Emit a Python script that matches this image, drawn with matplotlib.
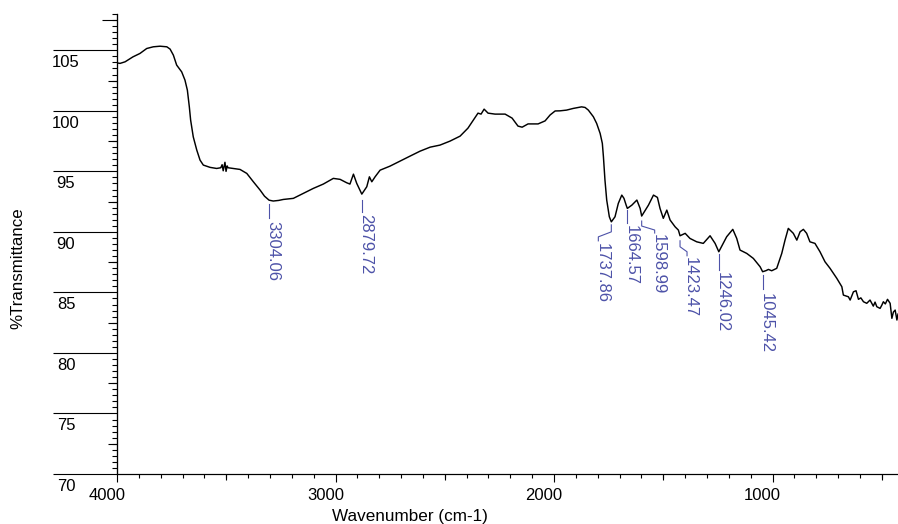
import matplotlib
matplotlib.use('Agg')
import matplotlib.pyplot as plt
from matplotlib import transforms
from matplotlib.lines import Line2D

plt.rcParams['font.family'] = ['Liberation Sans', 'DejaVu Sans']

# ---------------- data ----------------
wavenumber = [4000, 3986, 3963, 3927, 3895, 3864, 3834, 3803, 3772, 3757, 3742, 3727,
              3704, 3689, 3678, 3669, 3663, 3651, 3635, 3620, 3605, 3574, 3544,
              3525, 3519, 3514, 3510, 3506, 3501, 3496, 3492, 3468, 3437, 3406, 3376, 3345,
              3325, 3304.06, 3285, 3260, 3239, 3193, 3147, 3102, 3056, 3010, 2979, 2949,
              2934, 2918, 2903,
              2879.72, 2857, 2845, 2834, 2819, 2796, 2751, 2705, 2659, 2613, 2567, 2522,
              2476, 2430, 2394, 2366, 2348, 2334, 2320, 2302, 2270, 2224, 2192, 2165,
              2146, 2119, 2073, 2041, 2018, 1995, 1973, 1943, 1912, 1874, 1858, 1843,
              1820, 1805, 1789, 1779, 1774, 1767, 1759, 1747, 1737.86, 1721, 1706, 1690,
              1680, 1670, 1664.57, 1644, 1621, 1606, 1598.99, 1568, 1545, 1527, 1515,
              1500, 1484, 1469, 1446, 1431, 1423.47, 1400, 1378, 1347, 1317, 1286, 1263,
              1246.02, 1210, 1182, 1164, 1149, 1118, 1088, 1057, 1045.42, 1030, 1019,
              1004, 981, 958, 943, 928, 905, 889, 874, 859, 844, 829, 806, 783, 760, 737,
              706, 683, 676, 653, 645, 630, 618, 607, 596, 584, 569, 554, 539, 531, 523,
              508, 500, 493, 484, 474, 462, 454, 447, 439, 431, 426]
transmittance = [103.96, 103.92, 104.05, 104.46, 104.74, 105.15, 105.29, 105.34, 105.29,
                 105.10, 104.60, 103.78, 103.22, 102.54, 101.71, 100.33, 99.23, 97.85,
                 96.76, 95.93, 95.52, 95.33, 95.24,
                 95.30, 95.55, 95.05, 95.40, 95.75, 95.00, 95.45, 95.30,
                 95.24, 95.16, 94.83, 94.14, 93.45,
                 92.95, 92.62, 92.55, 92.60, 92.68, 92.77,
                 93.18, 93.59, 93.95, 94.42, 94.34, 94.06, 93.95, 94.77, 94.01, 93.12,
                 93.73, 94.55, 94.14, 94.55, 95.10, 95.43, 95.85, 96.26, 96.67, 97.00,
                 97.17, 97.50, 97.91, 98.57, 99.32, 99.81, 99.73, 100.14, 99.81, 99.73,
                 99.73, 99.40, 98.74, 98.65, 98.92, 98.92, 99.17, 99.66, 99.99, 100.00,
                 100.06, 100.20, 100.33, 100.28, 100.06, 99.51, 98.96, 98.13, 97.31,
                 96.20, 94.28, 92.63, 91.25, 90.83, 91.25, 92.35, 93.04, 92.77, 92.21,
                 91.94, 92.21, 92.63, 91.94, 91.31, 92.21, 93.04, 92.85, 91.94, 91.12,
                 91.80, 90.98, 90.42, 90.15, 89.68, 89.88, 89.46, 89.18, 89.05, 89.68,
                 89.05, 88.36, 89.60, 90.21, 89.46, 88.50, 88.22, 87.81, 87.12, 86.71,
                 86.80, 86.90, 86.79, 86.99, 88.22, 89.32, 90.29, 89.88, 89.32, 90.01,
                 90.21, 89.88, 89.18, 89.05, 88.36, 87.53, 86.99, 86.16, 85.47, 84.78,
                 84.64, 84.37, 85.05, 85.14, 84.43, 84.55, 84.23, 84.10, 84.37, 83.87,
                 84.20, 83.82, 83.68, 83.95, 84.23, 84.05, 84.43, 84.10, 82.86, 83.38,
                 83.54, 82.72, 83.21]

peak_wn = [3304.06, 2879.72, 1737.86, 1664.57, 1598.99, 1423.47, 1246.02, 1045.42]
peak_T = [92.55, 93.12, 90.83, 91.94, 91.31, 89.68, 88.36, 86.71]
peak_labels = ['3304.06', '2879.72', '1737.86', '1664.57', '1598.99', '1423.47',
               '1246.02', '1045.42']

y_ticks = [70, 75, 80, 85, 90, 95, 100, 105]
x_ticks = [4000, 3000, 2000, 1000]
x_label = 'Wavenumber (cm-1)'
y_label = '%Transmittance'

# ---------------- layout / style ----------------
W, H = 898, 524
PX = 72 / 100.0   # points per pixel
ann_color = '#4d52a8'

# leader polylines (pixel offsets from the peak, y downward) and text offsets
leaders = [
    [(0, 3), (0, 17)],
    [(0, 6), (0, 18)],
    [(0, 3), (0, 10), (-13, 15), (-13, 19)],
    [(0, 2), (0, 15)],
    [(0, 5), (0, 10), (13, 14), (13, 17)],
    [(0, 5), (0, 11), (7, 16), (7, 20)],
    [(0, 2), (0, 18)],
    [(0, 3), (0, 17)],
]
text_off = [(-1, 20), (-1, 20), (-14, 21), (-1, 17), (12, 18), (6, 21), (-1, 20), (-1, 21)]

fig = plt.figure(figsize=(W / 100, H / 100), dpi=100)
ax = fig.add_axes([117 / W, 1 - 474 / H, (W - 117) / W, (474 - 14) / H])
ax.plot(wavenumber, transmittance, color='black', lw=1.05, solid_joinstyle='round')
ax.set_xlim(4000, 426)
ax.set_ylim(70, 108)

for s in ['top', 'right']:
    ax.spines[s].set_visible(False)
for s in ['left', 'bottom']:
    ax.spines[s].set_linewidth(0.8)

# y ticks: long major lines, minor every 0.5
ax.set_yticks(y_ticks)
ax.set_yticks([70 + 0.5 * i for i in range(77)], minor=True)
ax.tick_params(axis='y', which='major', length=64 * PX, width=0.8, labelleft=False)
ax.tick_params(axis='y', which='minor', length=5 * PX, width=0.8)
# x ticks
ax.set_xticks(x_ticks)
ax.set_xticks(list(range(4000, 425, -100)), minor=True)
ax.tick_params(axis='x', which='major', length=8 * PX, width=0.8, labelbottom=False)
ax.tick_params(axis='x', which='minor', length=4 * PX, width=0.8)

# medium ticks
secy = ax.secondary_yaxis('left')
secy.set_yticks([v + 2.5 for v in y_ticks[:-1]])
secy.tick_params(length=9 * PX, width=0.8, labelleft=False)
secy.spines['left'].set_linewidth(0.8)
secy2 = ax.secondary_yaxis('left')
secy2.set_yticks([y_ticks[-1] + 2.5])
secy2.tick_params(length=15 * PX, width=0.8, labelleft=False)
secy2.spines['left'].set_linewidth(0.8)
secx = ax.secondary_xaxis('bottom')
secx.set_xticks([3500, 2500, 1500, 500])
secx.tick_params(length=6 * PX, width=0.8, labelbottom=False)
secx.spines['bottom'].set_linewidth(0.8)

# tick labels
ty = transforms.offset_copy(transforms.blended_transform_factory(fig.transFigure, ax.transData),
                            fig=fig, x=0, y=-5, units='dots')
for v in y_ticks:
    ax.text(66 / W, v, str(v), transform=ty, ha='center', va='top', fontsize=12)
tx = transforms.offset_copy(transforms.blended_transform_factory(ax.transData, ax.transAxes),
                            fig=fig, x=-10, y=-14, units='dots')
for v in x_ticks:
    ax.text(v, 0, str(v), transform=tx, ha='center', va='top', fontsize=12)

fig.text(410 / W, 1 - 521 / H, x_label, ha='center', va='baseline', fontsize=12.3)
fig.text(18 / W, 1 - 268 / H, y_label, ha='center', va='center', rotation=90, fontsize=12.2)

# peak annotations
fig.canvas.draw()
for wn, t, lab, pl, to in zip(peak_wn, peak_T, peak_labels, leaders, text_off):
    bx, by = ax.transData.transform((wn, t))
    xs = [bx + dx for dx, dy in pl]
    ys = [by - dy for dx, dy in pl]
    fig.add_artist(Line2D(xs, ys, transform=transforms.IdentityTransform(),
                          color=ann_color, lw=0.8))
    fig.text(bx + to[0], by - to[1], lab, transform=transforms.IdentityTransform(),
             rotation=-90, rotation_mode='anchor', ha='left', va='baseline',
             fontsize=12, color=ann_color)

fig.savefig('out.png', dpi=100)
